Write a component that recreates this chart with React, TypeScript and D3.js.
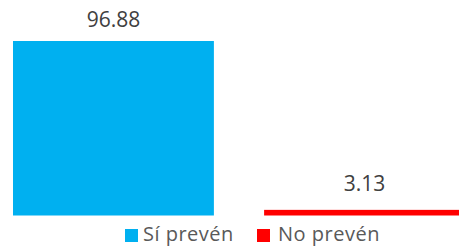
import { useEffect, useRef } from "react";
import * as d3 from "d3";

const categories = ["Sí prevén", "No prevén"];
const values = [96.88, 3.13];
const colors = ["#00B0F0", "#FF0000"];
const labelGaps = [14, 19];

const width = 459;
const height = 246;

const App = () => {
  const ref = useRef<SVGSVGElement>(null);

  useEffect(() => {
    const svg = d3.select(ref.current);
    svg.selectAll("*").remove();

    const x = d3
      .scaleBand<string>()
      .domain(categories)
      .range([13, 465])
      .paddingInner(0.2)
      .paddingOuter(0);

    const y = d3.scaleLinear().domain([0, 96.88]).range([215.5, 41]);

    const data = categories.map((c, i) => ({ name: c, value: values[i], i }));

    svg
      .selectAll("rect.bar")
      .data(data)
      .enter()
      .append("rect")
      .attr("class", "bar")
      .attr("x", (d) => x(d.name) as number)
      .attr("y", (d) => y(d.value))
      .attr("width", x.bandwidth())
      .attr("height", (d) => y(0) - y(d.value))
      .attr("fill", (d) => colors[d.i]);

    svg
      .selectAll("text.label")
      .data(data)
      .enter()
      .append("text")
      .attr("class", "label")
      .attr("x", (d) => (x(d.name) as number) + x.bandwidth() / 2)
      .attr("y", (d) => y(d.value) - labelGaps[d.i])
      .attr("text-anchor", "middle")
      .style("font-family", "'Open Sans', sans-serif")
      .style("font-size", "21px")
      .attr("fill", "#404040")
      .text((d) => d.value.toFixed(2));

    // legend
    const legend = svg
      .selectAll("g.legend")
      .data(data)
      .enter()
      .append("g")
      .attr("class", "legend")
      .attr("transform", (d) => `translate(${d.i === 0 ? 125 : 257},229)`);

    legend
      .append("rect")
      .attr("width", 13)
      .attr("height", 13)
      .attr("fill", (d) => colors[d.i]);

    legend
      .append("text")
      .attr("x", (d) => (d.i === 0 ? 18 : 21))
      .attr("y", 11.5)
      .style("font-family", "'Open Sans', sans-serif")
      .style("font-size", "20px")
      .style("letter-spacing", "0.5px")
      .attr("fill", "#595959")
      .text((d) => d.name);
  }, []);

  return (
    <svg
      ref={ref}
      width={width}
      height={height}
      style={{ position: "absolute", left: 0, top: 0, background: "#fff" }}
    />
  );
};

export default App;
